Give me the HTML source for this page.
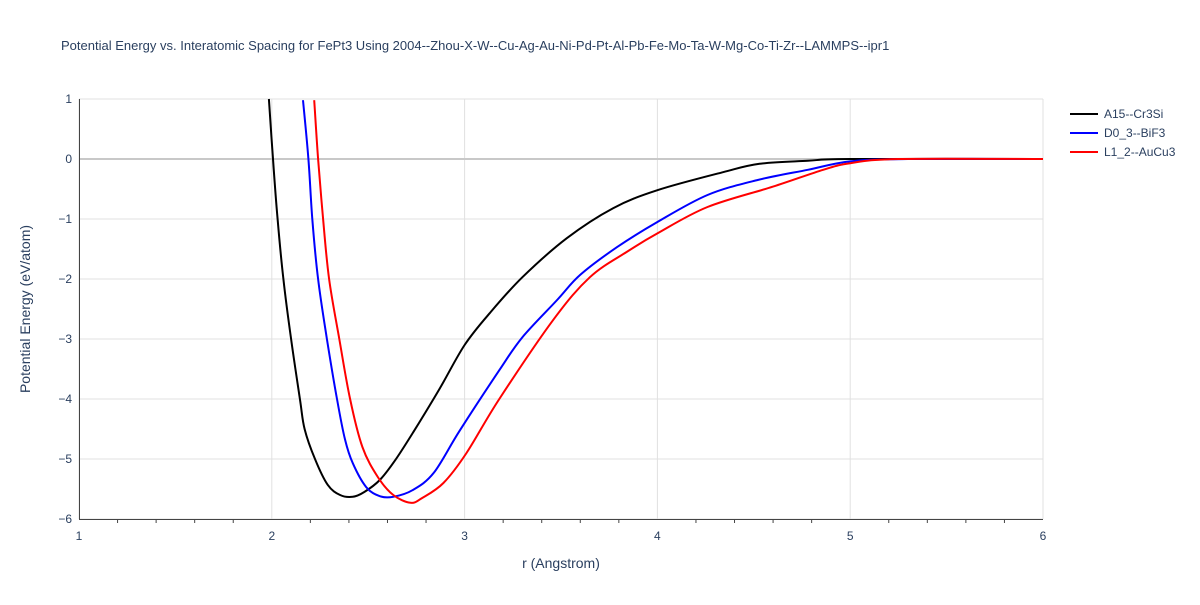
<!DOCTYPE html>
<html><head><meta charset="utf-8"><style>
body{margin:0;background:#fff}
svg text{font-family:"Liberation Sans",sans-serif}
</style></head><body>
<svg id="c" width="1200" height="600" xmlns="http://www.w3.org/2000/svg">
<rect width="1200" height="600" fill="#fff"/>
<text x="61" y="50" font-size="13" fill="#2a3f5f">Potential Energy vs. Interatomic Spacing for FePt3 Using 2004--Zhou-X-W--Cu-Ag-Au-Ni-Pd-Pt-Al-Pb-Fe-Mo-Ta-W-Mg-Co-Ti-Zr--LAMMPS--ipr1</text>
<g id="grid"></g><g id="axes"></g><g id="series"></g>
<text x="561" y="568" font-size="14" fill="#2a3f5f" text-anchor="middle">r (Angstrom)</text>
<text transform="translate(30,309) rotate(-90)" font-size="14" fill="#2a3f5f" text-anchor="middle">Potential Energy (eV/atom)</text>
<g id="legend"></g>
</svg>
<script>
const xTicks=[1,2,3,4,5,6];
const yTicks=[1,0,-1,-2,-3,-4,-5,-6];
const seriesNames=["A15--Cr3Si","D0_3--BiF3","L1_2--AuCu3"];
const seriesColors=["#000000","#0000ff","#ff0000"];
const rA15=[1.985,2.006,2.03,2.06,2.10,2.146,2.17,2.224,2.29,2.354,2.42,2.48,2.56,2.64,2.74,2.872,3.0,3.13,3.30,3.53,3.77,4.0,4.34,4.53,4.78,5.0,6.0];
const eA15=[1,0,-1,-2,-3,-4,-4.5,-5,-5.43,-5.6,-5.63,-5.55,-5.35,-5.02,-4.52,-3.82,-3.1,-2.57,-1.97,-1.32,-0.82,-0.52,-0.22,-0.08,-0.03,0,0];
const rD03=[2.162,2.19,2.21,2.24,2.286,2.338,2.38,2.42,2.49,2.56,2.63,2.73,2.84,2.976,3.18,3.30,3.48,3.60,3.79,4.0,4.26,4.52,4.78,5.0,5.3,6.0];
const eD03=[0.98,0,-1,-2,-3,-4,-4.68,-5.07,-5.47,-5.62,-5.63,-5.52,-5.23,-4.52,-3.52,-2.97,-2.35,-1.93,-1.47,-1.05,-0.6,-0.35,-0.18,-0.04,0,0];
const rL12=[2.22,2.24,2.266,2.297,2.35,2.406,2.47,2.55,2.63,2.72,2.78,2.89,3.01,3.18,3.46,3.65,3.84,4.0,4.26,4.6,4.86,5.0,5.25,6.0];
const eL12=[0.98,0,-1,-2,-3,-4,-4.8,-5.3,-5.6,-5.73,-5.65,-5.4,-4.9,-4.0,-2.68,-1.97,-1.55,-1.24,-0.8,-0.46,-0.18,-0.07,0,0];
const X=r=>79+(r-1)*(964/5), Y=e=>159-e*60;
const NS="http://www.w3.org/2000/svg";
function mk(p,t,a){const e=document.createElementNS(NS,t);for(const k in a)e.setAttribute(k,a[k]);p.appendChild(e);return e;}
function smooth(P){let d='M'+P[0][0].toFixed(1)+','+P[0][1].toFixed(1);
 for(let i=0;i<P.length-1;i++){const p0=P[Math.max(i-1,0)],p1=P[i],p2=P[i+1],p3=P[Math.min(i+2,P.length-1)];
  const c1=[p1[0]+(p2[0]-p0[0])/6,p1[1]+(p2[1]-p0[1])/6],c2=[p2[0]-(p3[0]-p1[0])/6,p2[1]-(p3[1]-p1[1])/6];
  d+=' C'+c1.map(v=>v.toFixed(1)).join(',')+' '+c2.map(v=>v.toFixed(1)).join(',')+' '+p2[0].toFixed(1)+','+p2[1].toFixed(1);}
 return d;}
const g=document.getElementById('grid'),ax=document.getElementById('axes'),s=document.getElementById('series'),lg=document.getElementById('legend');
xTicks.forEach(t=>{
 const l=mk(g,'line',{x1:X(t),x2:X(t),y1:99,y2:519,stroke:'#e0e0e0'});
 
 
 const tx=mk(ax,'text',{x:X(t),y:540,'font-size':12,fill:'#2a3f5f','text-anchor':'middle'});tx.textContent=t;
 
 
});
for(let t=1.2;t<6;t+=0.2){if(Math.abs(t-Math.round(t))<0.01)continue;
 const m=mk(ax,'line',{x1:X(t),x2:X(t),y1:519,y2:523,stroke:'#444'});
 
 }
yTicks.forEach(t=>{
 const l=mk(g,'line',{x1:79,x2:1043,y1:Y(t),y2:Y(t),stroke:t===0?'#c8c8c8':'#e0e0e0','stroke-width':t===0?2:1});
 
 
 const tx=mk(ax,'text',{x:72,y:Y(t)+4,'font-size':12,fill:'#2a3f5f','text-anchor':'end'});tx.textContent=t===0?'0':(t<0?'−'+(-t):t);
 
 
});
const a1=mk(ax,'line',{x1:79,x2:1043,y1:519.5,y2:519.5,stroke:'#444'});


const a2=mk(ax,'line',{x1:79.5,x2:79.5,y1:99,y2:519,stroke:'#444'});


const data=[[rA15,eA15],[rD03,eD03],[rL12,eL12]];
data.forEach((d,i)=>{
 const P=d[0].map((r,j)=>[X(r),Y(d[1][j])]);
 const p=mk(s,'path',{d:smooth(P),fill:'none',stroke:seriesColors[i],'stroke-width':2,'stroke-linejoin':'round'});
 
 
 const y=114+i*19;
 const ll=mk(lg,'line',{x1:1070,x2:1098,y1:y,y2:y,stroke:seriesColors[i],'stroke-width':2});
 
 
 const lt=mk(lg,'text',{x:1104,y:y+4,'font-size':12,fill:'#2a3f5f'});lt.textContent=seriesNames[i];
 
 
});
</script>
</body></html>
